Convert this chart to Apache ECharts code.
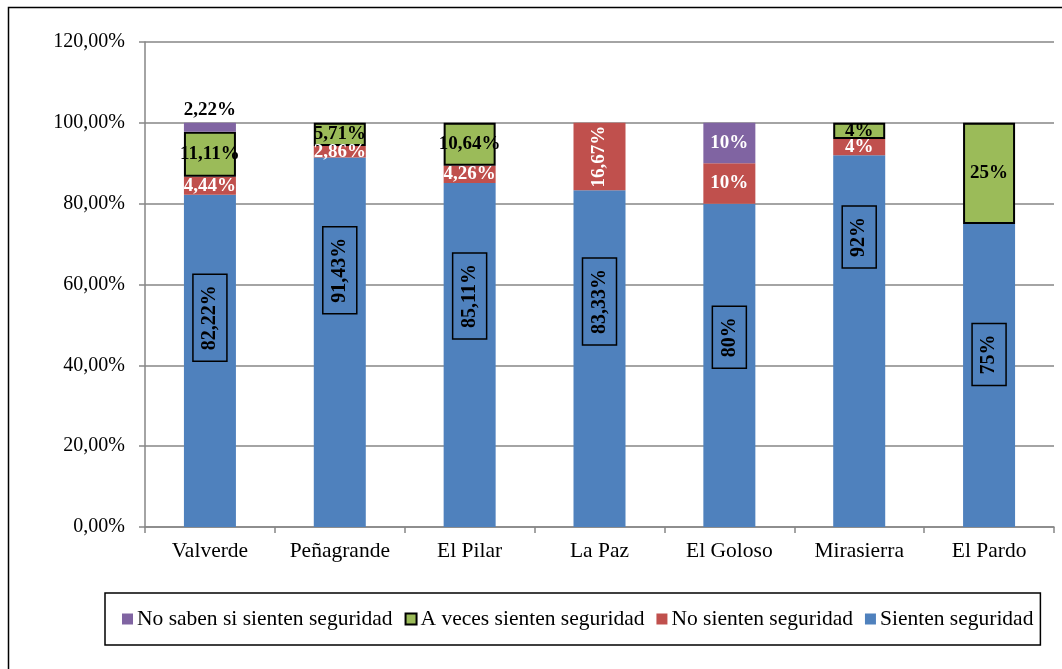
<!DOCTYPE html>
<html>
<head>
<meta charset="utf-8">
<script src="https://cdn.jsdelivr.net/npm/echarts@6/dist/echarts.min.js"></script>
<style>html,body{margin:0;padding:0;background:#fff}#c{width:1062px;height:669px}</style>
</head>
<body>
<div id="c"></div>
<script>
const categories = ['Valverde', 'Peñagrande', 'El Pilar', 'La Paz', 'El Goloso', 'Mirasierra', 'El Pardo'];
const sienten = [82.22, 91.43, 85.11, 83.33, 80, 92, 75];
const noSienten = [4.44, 2.86, 4.26, 16.67, 10, 4, 0];
const aVeces = [11.11, 5.71, 10.64, 0, 0, 4, 25];
const noSaben = [2.22, 0, 0, 0, 10, 0, 0];
const yTicks = [0, 20, 40, 60, 80, 100, 120];

// label styling tweaks (pixels upward from bar middle), separate from data
const blueLabelLift = [43, 72, 59, 57, 28, 104, 21];

const FONT = '"Liberation Serif", "Times New Roman", serif';
const fmt = v => Number.isInteger(v) ? v + '%' : v.toFixed(2).replace('.', ',') + '%';

const chart = echarts.init(document.getElementById('c'), null, {renderer: 'canvas'});

const baseLabel = {show: true, fontFamily: FONT, fontWeight: 'bold', fontSize: 19,
  formatter: p => (p.value ? fmt(p.value) : '')};

const option = {
  animation: false,
  graphic: [{type: 'rect', left: 6, top: 5, shape: {width: 1100, height: 700},
    style: {fill: 'none', stroke: '#000', lineWidth: 1.5}, silent: true, z: -1}],
  grid: {left: 145, right: 8, top: 42, bottom: 142},
  legend: {
    left: 105, top: 593,
    data: ['No saben si sienten seguridad', 'A veces sienten seguridad', 'No sienten seguridad', 'Sienten seguridad'],
    icon: 'rect', itemWidth: 11, itemHeight: 11, itemGap: 12,
    borderColor: '#000', borderWidth: 1.5, padding: [15, 7, 15, 17],
    textStyle: {fontFamily: FONT, fontSize: 21.5, color: '#000', padding: [0, 0, 0, -1]}
  },
  xAxis: {
    type: 'category', data: categories, boundaryGap: true,
    axisLine: {lineStyle: {color: '#868686', width: 1.5}},
    axisTick: {show: true, length: 6, lineStyle: {color: '#868686', width: 1.5}},
    axisLabel: {fontFamily: FONT, fontSize: 21.5, color: '#000', margin: 13, interval: 0, hideOverlap: false}
  },
  yAxis: {
    type: 'value', min: yTicks[0], max: yTicks[yTicks.length - 1], interval: 20,
    axisLine: {show: true, lineStyle: {color: '#868686', width: 1.5}},
    axisTick: {show: true, length: 6, lineStyle: {color: '#868686', width: 1.5}},
    splitLine: {lineStyle: {color: '#868686', width: 1.5}},
    axisLabel: {fontFamily: FONT, fontSize: 20, color: '#000', margin: 20,
      formatter: v => v.toFixed(2).replace('.', ',') + '%'}
  },
  series: [
    {
      name: 'Sienten seguridad', type: 'bar', stack: 's', barWidth: 52,
      itemStyle: {color: '#4F81BD'},
      data: sienten.map((v, i) => ({value: v, label: {offset: [blueLabelLift[i], 0]}})),
      label: Object.assign({}, baseLabel, {position: 'inside', rotate: 90, color: '#000', fontSize: 20,
        borderColor: '#000', borderWidth: 1.5, padding: [8, 11, 6, 11]})
    },
    {
      name: 'No sienten seguridad', type: 'bar', stack: 's',
      itemStyle: {color: '#C0504D'},
      data: noSienten.map(v => v ? (v > 15 ? {value: v, label: {rotate: 90}} : v) : null),
      label: Object.assign({}, baseLabel, {position: 'inside', color: '#fff'})
    },
    {
      name: 'A veces sienten seguridad', type: 'bar', stack: 's',
      itemStyle: {color: '#9BBB59', borderColor: '#000', borderWidth: 2},
      data: aVeces.map(v => v ? v : null),
      label: Object.assign({}, baseLabel, {position: 'inside', color: '#000'})
    },
    {
      name: 'No saben si sienten seguridad', type: 'bar', stack: 's',
      itemStyle: {color: '#8064A2'},
      data: noSaben.map(v => v ? (v < 5 ? {value: v, label: {position: 'top', color: '#000', distance: 3}} : v) : null),
      label: Object.assign({}, baseLabel, {position: 'inside', color: '#fff'})
    }
  ]
};
chart.setOption(option);
</script>
</body>
</html>
